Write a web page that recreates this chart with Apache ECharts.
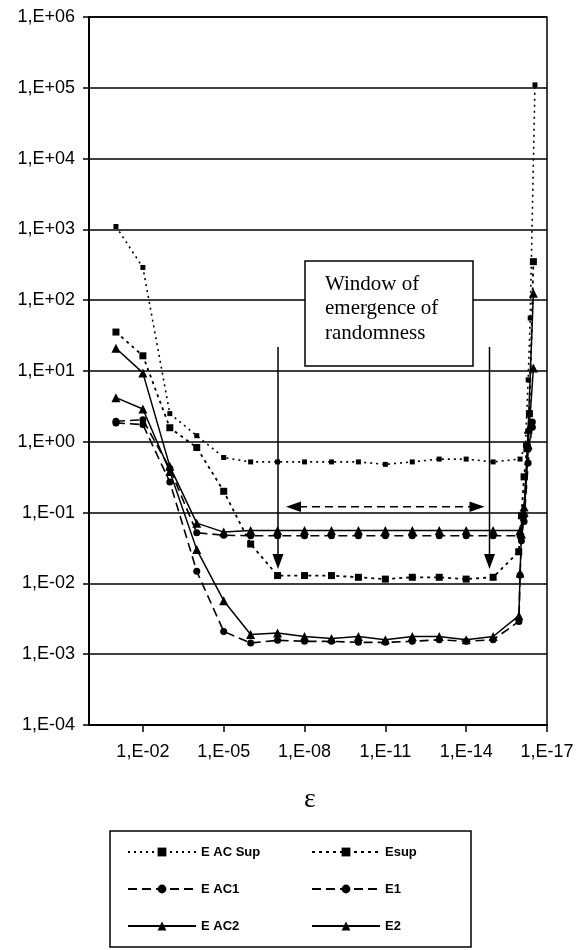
<!DOCTYPE html>
<html><head><meta charset="utf-8">
<script src="https://cdn.jsdelivr.net/npm/echarts@6/dist/echarts.min.js"></script>
<style>html,body{margin:0;padding:0;background:#fff}#c{width:579px;height:950px}</style>
</head><body><div id="c"></div>
<script>
// epsilon values (decades 1E-01 .. 1E-15)
const mainEps = [1e-1,1e-2,1e-3,1e-4,1e-5,1e-6,1e-7,1e-8,1e-9,1e-10,1e-11,1e-12,1e-13,1e-14,1e-15];

const eAcSupVals = [1100, 290, 2.5, 1.22, 0.6, 0.52, 0.52, 0.52, 0.52, 0.52, 0.48, 0.52, 0.57, 0.57, 0.52];
const eAcSupTailEps = [1e-16, 6.3e-17, 5e-17, 4.2e-17, 2.8e-17];
const eAcSupTailVals = [0.57, 0.9, 7.5, 56, 1.1e5];

const esupVals = [35.5, 16.4, 1.58, 0.83, 0.2, 0.036, 0.0129, 0.0129, 0.0129, 0.0122, 0.0115, 0.0122, 0.0122, 0.0115, 0.0122];
const esupTailEps = [1.12e-16, 8.9e-17, 7.1e-17, 5.6e-17, 4.5e-17, 3.2e-17];
const esupTailVals = [0.028, 0.09, 0.32, 0.8, 2.5, 350];

const eAc1Vals = [1.95, 2.05, 0.42, 0.052, 0.048, 0.047, 0.047, 0.047, 0.047, 0.047, 0.047, 0.047, 0.047, 0.047, 0.047];
const eAc1TailEps = [1e-16, 7.1e-17, 5e-17, 3.5e-17];
const eAc1TailVals = [0.047, 0.075, 0.5, 1.9];

const e1Vals = [1.85, 1.75, 0.27, 0.0148, 0.0021, 0.00144, 0.00157, 0.00152, 0.00152, 0.00147, 0.00147, 0.00152, 0.0016, 0.00152, 0.0016];
const e1TailEps = [1.1e-16, 1e-16, 8.9e-17, 7.1e-17, 5e-17, 3.5e-17];
const e1TailVals = [0.0029, 0.013, 0.04, 0.09, 0.8, 1.6];

const eAc2Vals = [21, 9.4, 0.45, 0.071, 0.053, 0.056, 0.056, 0.056, 0.056, 0.056, 0.056, 0.056, 0.056, 0.056, 0.056];
const eAc2TailEps = [1e-16, 7.1e-17, 5e-17, 3.2e-17];
const eAc2TailVals = [0.056, 0.1, 1.5, 125];

const e2Vals = [4.2, 2.9, 0.38, 0.03, 0.0057, 0.0019, 0.002, 0.00178, 0.00166, 0.00178, 0.0016, 0.00178, 0.00178, 0.0016, 0.00178];
const e2TailEps = [1.1e-16, 1e-16, 8.9e-17, 7.1e-17, 5e-17, 3.2e-17];
const e2TailVals = [0.0035, 0.014, 0.05, 0.12, 0.9, 11];

const xTickEps = [1e-2, 1e-5, 1e-8, 1e-11, 1e-14, 1e-17];
const seriesNames = ['E AC Sup', 'Esup', 'E AC1', 'E1', 'E AC2', 'E2'];
const noteLines = ['Window of', 'emergence of', 'randomness'];

const dec = e => -Math.log10(e);
function pts(eps, vals, tEps, tVals) {
  const a = eps.map((e, i) => [dec(e), vals[i]]);
  const b = tEps.map((e, i) => [dec(e), tVals[i]]);
  return a.concat(b);
}
const xTicks = xTickEps.map(e => Math.round(dec(e)));
const pad2 = n => (n < 10 ? '0' : '') + n;
const FONT = 'Liberation Sans';

function mk(name, data, symbol, size, lineType, width) {
  return {
    name, type: 'line', data, symbol, symbolSize: size,
    lineStyle: { color: '#000', width, type: lineType },
    itemStyle: { color: '#000' },
    emphasis: { disabled: true }, animation: false
  };
}

const legendText = { fontFamily: FONT, fontSize: 13, fontWeight: 'bold', color: '#000', lineHeight: 14 };

const chart = echarts.init(document.getElementById('c'));
chart.setOption({
  backgroundColor: '#fff',
  animation: false,
  grid: { left: 89, right: 32, top: 17, bottom: 225, show: true, borderColor: '#000', borderWidth: 1.5, outerBoundsMode: 'none' },
  xAxis: {
    type: 'value', min: 0, max: 17,
    axisLine: { show: true, lineStyle: { color: '#000', width: 2 } },
    axisTick: { show: true, length: 7, lineStyle: { color: '#000', width: 1.5 }, customValues: xTicks },
    axisLabel: { customValues: xTicks, formatter: v => '1,E-' + pad2(Math.round(v)), fontSize: 18, color: '#000', fontFamily: FONT, margin: 18 },
    splitLine: { show: false },
    name: 'ε', nameLocation: 'middle', nameGap: 61,
    nameTextStyle: { fontFamily: 'Liberation Serif', fontSize: 28, color: '#000', padding: [0, 16, 0, 0] }
  },
  yAxis: {
    type: 'log', logBase: 10, min: 1e-4, max: 1e6, splitNumber: 10,
    axisLine: { show: true, lineStyle: { color: '#000', width: 2 } },
    axisTick: { show: true, length: 6, lineStyle: { color: '#000', width: 1.5 } },
    axisLabel: {
      formatter: v => { const e = Math.round(Math.log10(v)); return '1,E' + (e < 0 ? '-' : '+') + pad2(Math.abs(e)); },
      fontSize: 18, color: '#000', fontFamily: FONT, margin: 14
    },
    splitLine: { show: true, lineStyle: { color: '#000', width: 1.5 } }
  },
  legend: [
    { data: [seriesNames[0], seriesNames[2], seriesNames[4]], orient: 'vertical', left: 127, top: 845, padding: 0,
      itemWidth: 68, itemHeight: 11, itemGap: 23, selectedMode: false, textStyle: legendText },
    { data: [seriesNames[1], seriesNames[3], seriesNames[5]], orient: 'vertical', left: 311, top: 845, padding: 0,
      itemWidth: 68, itemHeight: 11, itemGap: 23, selectedMode: false, textStyle: legendText }
  ],
  series: [
    mk(seriesNames[0], pts(mainEps, eAcSupVals, eAcSupTailEps, eAcSupTailVals), 'rect', 5, [2, 4], 1.6),
    mk(seriesNames[1], pts(mainEps, esupVals, esupTailEps, esupTailVals), 'rect', 7, [3, 4], 1.8),
    mk(seriesNames[2], pts(mainEps, eAc1Vals, eAc1TailEps, eAc1TailVals), 'circle', 7, [9, 5], 1.6),
    mk(seriesNames[3], pts(mainEps, e1Vals, e1TailEps, e1TailVals), 'circle', 7, [9, 5], 1.6),
    mk(seriesNames[4], pts(mainEps, eAc2Vals, eAc2TailEps, eAc2TailVals), 'triangle', 9, 'solid', 1.5),
    mk(seriesNames[5], pts(mainEps, e2Vals, e2TailEps, e2TailVals), 'triangle', 9, 'solid', 1.5)
  ],
  graphic: [
    { type: 'rect', shape: { x: 305, y: 261, width: 168, height: 105 }, style: { fill: '#fff', stroke: '#000', lineWidth: 1.5 }, z: 100 },
    { type: 'text', x: 325, y: 272, z: 101, style: { text: noteLines.join('\n'), font: '21px "Liberation Serif"', fill: '#000', lineHeight: 24.5 } },
    { type: 'line', shape: { x1: 278, y1: 347, x2: 278, y2: 556 }, style: { stroke: '#000', lineWidth: 1.5 }, z: 100 },
    { type: 'polygon', shape: { points: [[272.5, 554], [283.5, 554], [278, 569]] }, style: { fill: '#000' }, z: 100 },
    { type: 'line', shape: { x1: 489.5, y1: 347, x2: 489.5, y2: 556 }, style: { stroke: '#000', lineWidth: 1.5 }, z: 100 },
    { type: 'polygon', shape: { points: [[484, 554], [495, 554], [489.5, 569]] }, style: { fill: '#000' }, z: 100 },
    { type: 'line', shape: { x1: 299, y1: 506.7, x2: 471, y2: 506.7 }, style: { stroke: '#000', lineWidth: 1.5, lineDash: [8, 5] }, z: 100 },
    { type: 'polygon', shape: { points: [[286, 506.7], [301, 501.5], [301, 511.9]] }, style: { fill: '#000' }, z: 100 },
    { type: 'polygon', shape: { points: [[484.5, 506.7], [469.5, 501.5], [469.5, 511.9]] }, style: { fill: '#000' }, z: 100 },
    { type: 'rect', shape: { x: 110, y: 831, width: 361, height: 116 }, style: { fill: 'none', stroke: '#000', lineWidth: 1.5 }, z: 100 }
  ]
});
</script></body></html>
